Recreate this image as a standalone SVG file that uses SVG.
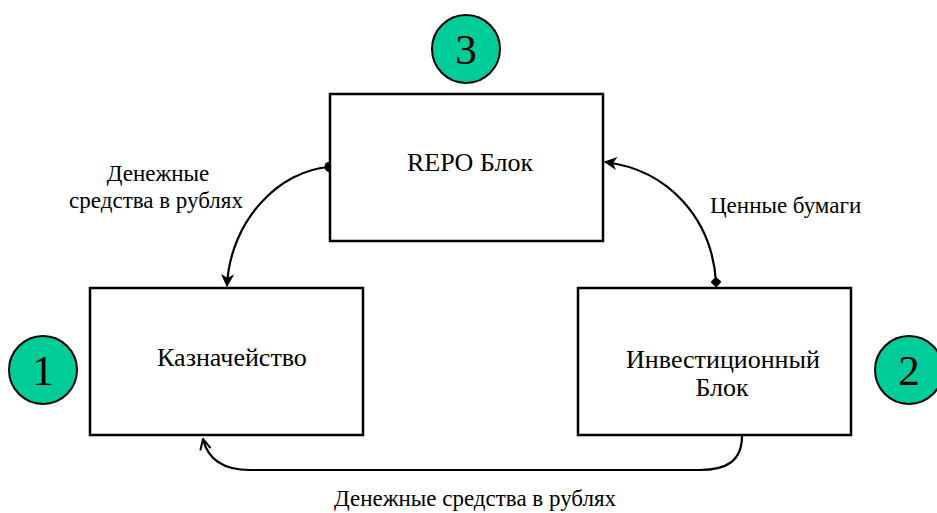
<svg xmlns="http://www.w3.org/2000/svg" width="937" height="513" viewBox="0 0 937 513">
<style>
.box{fill:#fff;stroke:#000;stroke-width:2.5}
.num{fill:#00CC99;stroke:#000;stroke-width:2}
.t{font-family:"Liberation Serif",serif;fill:#000}
.bt{font-size:26px}
.lt{font-size:23px}
.nt{font-size:43px}
.c{fill:none;stroke:#000;stroke-width:2.2}
</style>
<defs>
<marker id="arr" viewBox="0 0 10 10" refX="9" refY="5" markerWidth="6" markerHeight="6" orient="auto" markerUnits="strokeWidth">
<path d="M0,0 L10,5 L0,10 L3,5 z" fill="#000"/>
</marker>
<marker id="openarr" viewBox="0 0 10 10" refX="9" refY="5" markerWidth="6" markerHeight="6" orient="auto" markerUnits="strokeWidth">
<path d="M1,1 L9,5 L1,9" fill="none" stroke="#000" stroke-width="1.5"/>
</marker>
<marker id="dot" viewBox="0 0 10 10" refX="5" refY="5" markerWidth="5" markerHeight="5" orient="auto" markerUnits="strokeWidth">
<circle cx="5" cy="5" r="5" fill="#000"/>
</marker>
<marker id="dia" viewBox="0 0 10 10" refX="5" refY="5" markerWidth="5" markerHeight="5" orient="auto" markerUnits="strokeWidth">
<path d="M0,5 L5,0 L10,5 L5,10 z" fill="#000"/>
</marker>
</defs>
<g id="connectors">
<path class="c" d="M330,167 C280,170 230,220 227,286" marker-start="url(#dot)" marker-end="url(#arr)"/>
<path class="c" d="M716,282 C712,220 670,170 605,162" marker-start="url(#dia)" marker-end="url(#arr)"/>
<path class="c" d="M742,436 C742,462 725,470 700,470 L250,470 C225,470 208,460 203,439" marker-end="url(#openarr)"/>
</g>
<g id="repo">
<rect class="box" x="330" y="94" width="273" height="147"/>
<text class="t bt" x="470" y="171" text-anchor="middle">REPO Блок</text>
</g>
<g id="kazn">
<rect class="box" x="90" y="288" width="273" height="147"/>
<text class="t bt" x="232" y="366" text-anchor="middle">Казначейство</text>
</g>
<g id="invest">
<rect class="box" x="578" y="288" width="273" height="147"/>
<text class="t bt" x="723" y="368" text-anchor="middle">Инвестиционный</text>
<text class="t bt" x="722" y="396" text-anchor="middle">Блок</text>
</g>
<g id="n3">
<circle class="num" cx="466" cy="49" r="34"/>
<text class="t nt" x="466" y="64" text-anchor="middle">3</text>
</g>
<g id="n1">
<circle class="num" cx="43" cy="370" r="34"/>
<text class="t nt" x="43" y="385" text-anchor="middle">1</text>
</g>
<g id="n2">
<circle class="num" cx="909" cy="370" r="34"/>
<text class="t nt" x="909" y="385" text-anchor="middle">2</text>
</g>
<g id="labels">
<text class="t lt" x="158" y="181" text-anchor="middle">Денежные</text>
<text class="t lt" x="156" y="208" text-anchor="middle">средства в рублях</text>
<text class="t lt" x="710" y="213">Ценные бумаги</text>
<text class="t lt" x="475" y="506" text-anchor="middle">Денежные средства в рублях</text>
</g>
</svg>
